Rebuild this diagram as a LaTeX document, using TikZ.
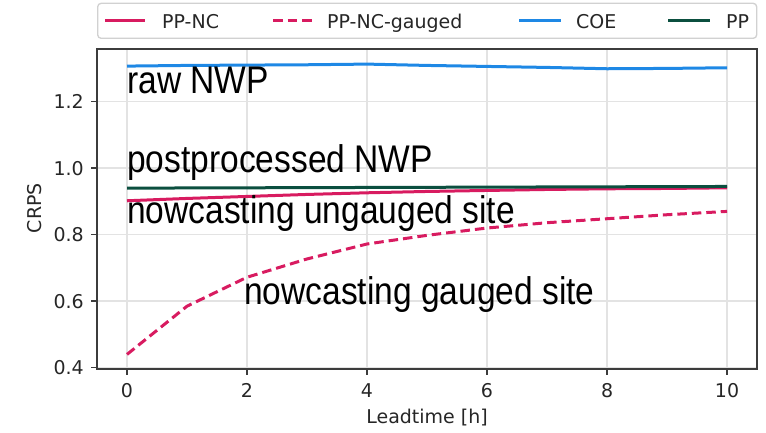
\documentclass[tikz,border=0pt]{standalone}
\usepackage{fontspec}
\newfontfamily\dejavu{DejaVu Sans}
\newfontfamily\arialish[FakeStretch=0.87]{Liberation Sans}
\usetikzlibrary{positioning}

\definecolor{ncred}{HTML}{D81B60}
\definecolor{coeblue}{HTML}{1E88E5}
\definecolor{ppgreen}{HTML}{0B4F3F}
\definecolor{gridgray}{HTML}{E3E3E3}
\definecolor{framegray}{HTML}{3C3C3C}

\begin{document}
\begin{tikzpicture}
    [x=0.03cm,y=0.03cm,
    every node/.style={inner sep=0pt},
    tick label/.style={font=\dejavu\fontsize{16.2}{19}\selectfont,text=black!85},
    note/.style={font=\arialish\fontsize{32.9}{38}\selectfont,anchor=base west},
    curve/.style={line width=0.09cm,line join=round},
    ppnc/.style={curve,draw=ncred},
    gauged/.style={curve,draw=ncred,dash pattern=on 0.285cm off 0.15cm},
    coe/.style={curve,draw=coeblue},
    ppcurve/.style={curve,draw=ppgreen}]
    \useasboundingbox (0,0) rectangle (766,433);
    % axes in data units: 1 h = 60px, 1 CRPS = 332.5px
    \begin{scope}[shift={(3.81cm,-2.031cm)},x=1.8cm,y=9.975cm]
        % grid
        \foreach \t in {0,2,...,10}
            \draw[gridgray,line width=0.045cm] (\t,0.396) -- (\t,1.3585);
        \foreach \v in {0.4,0.6,0.8,1.0,1.2}
            \draw[gridgray,line width=0.045cm] (-0.5,\v) -- (10.5,\v);
        % the four curves
        \draw[ppnc] plot coordinates {(0,0.902) (1,0.909) (2,0.915) (3,0.921)
            (4,0.926) (5,0.930) (6,0.933) (7,0.936) (8,0.938) (9,0.939) (10,0.941)};
        \draw[gauged] plot coordinates {(0,0.440) (1,0.585) (2,0.672) (3,0.727)
            (4,0.772) (5,0.798) (6,0.820) (7,0.836) (8,0.848) (9,0.860) (10,0.870)};
        \draw[coe] plot coordinates {(0,1.307) (1,1.309) (2,1.310) (3,1.311)
            (4,1.313) (5,1.309) (6,1.306) (7,1.303) (8,1.299) (9,1.300) (10,1.302)};
        \draw[ppcurve] plot coordinates {(0,0.940) (2,0.941) (4,0.942) (6,0.943)
            (8,0.944) (10,0.945)};
        % frame and ticks
        \draw[framegray,line width=0.06cm] (-0.5,0.396) rectangle (10.5,1.3585);
        \foreach \t in {0,2,...,10} {
            \draw[framegray,line width=0.045cm] (\t,0.396) -- ++(0,-0.018);
            \node [tick label,anchor=north,yshift=-0.42cm] (xt\t) at (\t,0.396) {\t};
        }
        \foreach \v [count=\i] in {0.4,0.6,0.8,1.0,1.2} {
            \draw[framegray,line width=0.045cm] (-0.5,\v) -- ++(-0.1,0);
            \node [tick label,anchor=east,xshift=-0.39cm] (yt\i) at (-0.5,\v) {\v};
        }
        \node [tick label,anchor=base] (xlabel) at (5,0.2307) {Leadtime [h]};
        \node [tick label,rotate=90] (ylabel) at (-1.533,0.880) {CRPS};
    \end{scope}
    % legend above the axes
    \node [draw=black!18,fill=white,rounded corners=3pt,line width=0.04cm,
        minimum width=19.77cm,minimum height=1.05cm,anchor=south west] (legend) at (97,394) {};
    \draw[ppnc] (105,412.3) -- (145,412.3);
    \node [tick label,anchor=base west] (lgppnc) at (162,404.7) {PP-NC};
    \draw[gauged] (273,412.3) -- (312,412.3);
    \node [tick label,anchor=base west] (lggauged) at (327,404.7) {PP-NC-gauged};
    \draw[coe] (519,412.3) -- (561,412.3);
    \node [tick label,anchor=base west] (lgcoe) at (576,404.7) {COE};
    \draw[ppcurve] (668,412.3) -- (710,412.3);
    \node [tick label,anchor=base west] (lgpp) at (726,404.7) {PP};
    % labels written onto the curves
    \node [note] (rawnwp) at (127,339.7) {raw NWP};
    \node [note] (postnwp) at (127,260) {postprocessed NWP};
    \node [note] (ungauged) at (127,209) {nowcasting ungauged site};
    \node [note] (gaugedsite) at (244,128) {nowcasting gauged site};
\end{tikzpicture}
\end{document}
